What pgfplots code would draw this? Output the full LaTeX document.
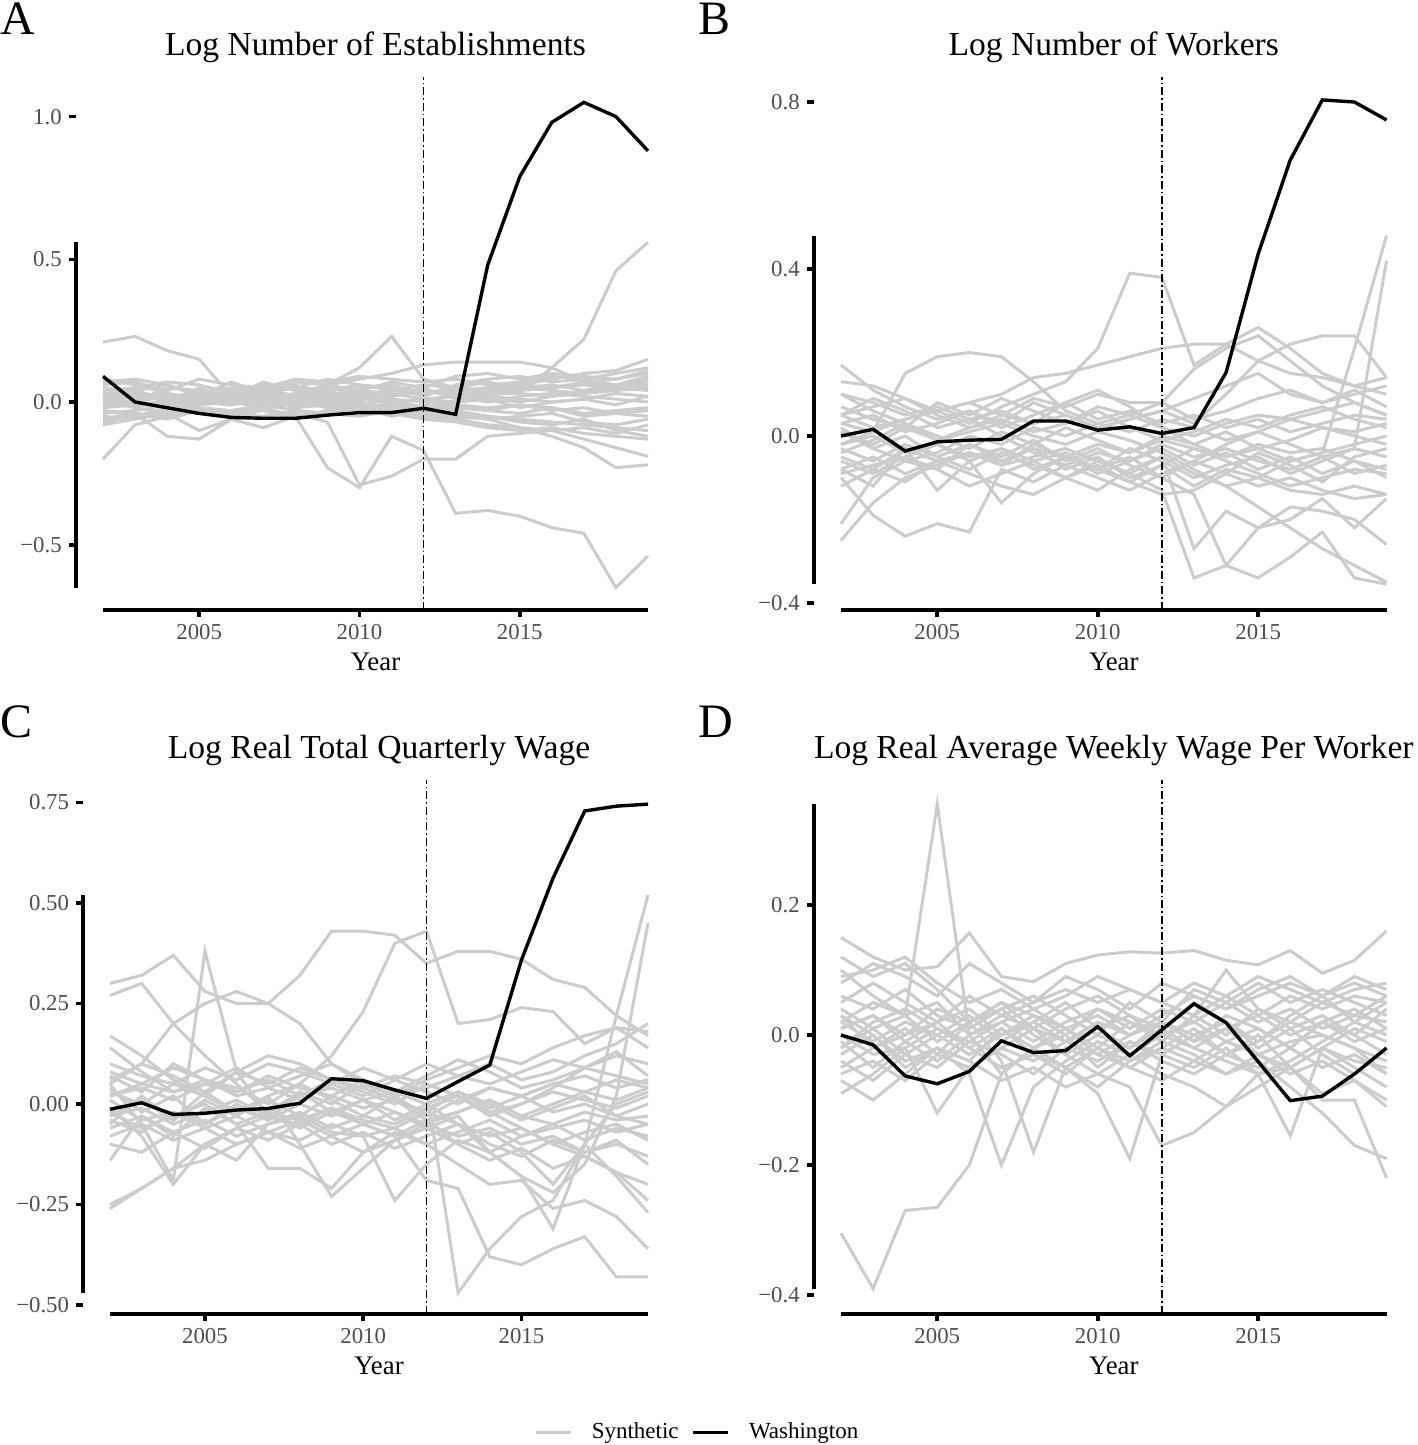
\documentclass[border=0pt]{standalone}
\usepackage{pgfplots}
\usepackage{pgfplotstable}
\pgfplotsset{compat=1.18}
\usepackage{fontspec}
\setmainfont{Liberation Serif}
\definecolor{gryc}{HTML}{CCCCCC}
\definecolor{tickc}{HTML}{4D4D4D}

\pgfplotstableread[header=has colnames]{
id 2002 2003 2004 2005 2006 2007 2008 2009 2010 2011 2012 2013 2014 2015 2016 2017 2018 2019
w 0.09 0.00 -0.02 -0.04 -0.054 -0.057 -0.057 -0.046 -0.037 -0.037 -0.022 -0.043 0.48 0.79 0.98 1.05 1.00 0.88
s1 0.21 0.23 0.18 0.15 0.02 0.03 0.05 0.04 0.06 0.05 0.03 0.04 0.05 0.06 0.05 0.07 0.08 0.10
s2 0.02 0.03 0.01 0.04 0.02 0.01 0.03 0.06 0.12 0.23 0.08 0.05 0.04 0.03 0.02 0.04 0.06 0.07
s3 -0.03 -0.05 -0.02 -0.04 -0.03 -0.02 -0.05 -0.23 -0.30 -0.12 -0.17 -0.39 -0.38 -0.40 -0.44 -0.46 -0.65 -0.54
s4 -0.06 -0.04 -0.05 -0.03 -0.04 -0.05 -0.04 -0.07 -0.29 -0.26 -0.20 -0.20 -0.12 -0.11 -0.10 -0.09 -0.11 -0.08
s5 0.01 0.03 0.02 0.00 0.04 0.03 0.02 0.01 0.03 0.02 0.04 0.02 0.03 0.03 0.12 0.22 0.46 0.56
s6 0.05 0.04 0.06 0.03 0.05 0.04 0.07 0.06 0.08 0.10 0.13 0.14 0.14 0.14 0.12 0.07 0.05 0.06
s7 0.00 -0.02 0.01 -0.01 0.00 0.02 -0.01 0.00 -0.02 -0.01 -0.03 -0.05 -0.06 -0.09 -0.12 -0.16 -0.23 -0.22
s8 0.03 0.01 0.02 0.00 -0.01 0.01 0.00 -0.02 -0.01 -0.03 -0.04 -0.06 -0.08 -0.09 -0.10 -0.13 -0.16 -0.19
s9 -0.01 0.00 0.02 0.03 0.01 0.04 0.05 0.03 0.02 0.04 0.03 0.05 0.04 0.06 0.08 0.10 0.11 0.15
s10 -0.20 -0.08 -0.05 -0.03 -0.04 -0.02 0.00 -0.01 0.01 0.00 -0.02 0.00 0.01 -0.02 0.00 0.01 -0.01 0.02
s11 -0.06 -0.04 -0.12 -0.13 -0.06 -0.05 -0.03 -0.04 -0.02 -0.05 -0.03 -0.04 -0.06 -0.05 -0.04 -0.07 -0.08 -0.06
s12 0.02 -0.02 -0.04 -0.10 -0.06 -0.09 -0.05 -0.03 -0.01 -0.02 -0.03 -0.01 -0.03 -0.04 -0.02 -0.05 -0.04 -0.03
s13 0.06 0.07 0.04 0.08 0.06 0.05 0.08 0.07 0.09 0.08 0.07 0.08 0.06 0.07 0.09 0.08 0.10 0.12
s14 0.04 0.05 0.07 0.06 0.03 0.06 0.05 0.08 0.06 0.04 0.06 0.05 0.07 0.05 0.04 0.03 0.04 0.05
s15 0.00 0.02 0.03 0.01 0.02 0.00 0.03 0.02 0.04 0.03 0.01 0.02 0.00 0.02 0.03 0.02 0.01 0.00
s16 -0.02 -0.01 0.00 0.02 0.01 0.03 0.01 0.00 0.02 0.01 0.00 -0.01 -0.02 -0.01 -0.03 -0.02 -0.04 -0.05
s17 0.03 0.04 0.01 0.00 0.03 0.05 0.02 0.04 0.01 0.02 0.04 0.03 0.02 0.04 0.05 0.06 0.05 0.04
s18 -0.04 -0.03 -0.01 0.01 0.00 -0.02 -0.01 0.01 0.00 -0.02 -0.01 -0.03 -0.05 -0.06 -0.07 -0.08 -0.09 -0.10
s19 -0.07 -0.05 -0.03 -0.01 0.02 0.01 -0.02 -0.01 -0.03 0.00 0.01 0.00 0.01 0.00 0.02 0.03 0.05 0.06
s20 0.01 0.00 0.05 0.04 0.02 0.07 0.04 0.02 0.05 0.06 0.03 0.04 0.03 0.05 0.06 0.04 0.06 0.08
s21 -0.08 -0.06 -0.04 -0.02 -0.03 -0.01 -0.03 -0.04 -0.05 -0.03 -0.05 -0.06 -0.05 -0.07 -0.08 -0.06 -0.10 -0.12
s22 0.08 0.06 0.03 0.01 0.04 0.02 0.06 0.03 0.01 0.05 0.02 0.06 0.08 0.09 0.07 0.08 0.06 0.09
s23 -0.05 -0.06 -0.02 0.00 -0.01 0.01 0.02 0.00 -0.01 0.01 -0.02 -0.02 -0.03 -0.01 -0.02 -0.04 -0.03 -0.02
s24 0.05 0.03 0.00 0.05 0.01 -0.01 0.01 0.05 0.03 0.02 0.05 0.01 0.02 0.01 0.00 0.01 0.03 0.02
s25 -0.03 -0.04 -0.06 -0.03 -0.05 -0.03 -0.06 -0.03 -0.02 -0.04 -0.06 -0.07 -0.09 -0.10 -0.09 -0.11 -0.12 -0.13
s26 0.07 0.08 0.06 0.02 0.07 0.03 0.00 0.06 0.04 0.07 0.05 0.09 0.10 0.08 0.10 0.09 0.08 0.11
}\rawA

\pgfplotstableread[header=has colnames]{
id 2002 2003 2004 2005 2006 2007 2008 2009 2010 2011 2012 2013 2014 2015 2016 2017 2018 2019
w 0.00 0.016 -0.036 -0.014 -0.01 -0.008 0.036 0.036 0.014 0.022 0.006 0.02 0.152 0.436 0.661 0.805 0.80 0.757
s1 0.05 0.02 0.04 0.06 0.03 0.07 0.10 0.13 0.21 0.39 0.38 0.17 0.22 0.26 0.21 0.15 0.12 0.14
s2 0.03 0.01 0.15 0.19 0.20 0.19 0.13 0.06 0.03 0.05 0.02 0.00 0.03 0.05 0.04 0.02 0.01 0.03
s3 -0.02 0.01 0.04 0.06 0.08 0.10 0.14 0.15 0.17 0.19 0.21 0.22 0.22 0.18 0.15 0.14 0.12 0.10
s4 0.02 -0.03 0.00 -0.05 -0.02 -0.06 -0.03 -0.08 -0.05 -0.10 -0.07 -0.12 -0.08 -0.10 -0.06 -0.04 0.21 0.48
s5 -0.08 -0.05 -0.09 -0.06 -0.04 -0.07 -0.02 -0.05 -0.08 -0.03 -0.06 -0.10 -0.07 -0.05 -0.09 -0.06 -0.03 0.42
s6 0.10 0.08 0.05 0.07 0.04 0.06 0.03 0.05 0.02 0.04 0.06 0.03 0.10 0.18 0.22 0.24 0.24 0.14
s7 0.05 0.07 0.09 0.06 0.08 0.05 0.09 0.07 0.10 0.08 0.08 0.16 0.21 0.24 0.18 0.12 0.08 0.05
s8 -0.05 -0.08 -0.03 -0.06 -0.04 -0.07 -0.05 -0.03 -0.06 -0.09 -0.13 -0.34 -0.31 -0.34 -0.29 -0.23 -0.34 -0.355
s9 -0.02 0.00 -0.04 -0.02 -0.05 -0.03 -0.06 -0.04 -0.08 -0.05 -0.10 -0.14 -0.31 -0.22 -0.17 -0.18 -0.20 -0.26
s10 0.01 -0.02 0.02 -0.01 0.01 0.03 0.00 -0.02 0.01 -0.01 -0.04 -0.08 -0.12 -0.17 -0.22 -0.27 -0.31 -0.35
s11 -0.03 -0.06 -0.02 -0.05 -0.08 -0.04 -0.07 -0.10 -0.06 -0.09 -0.05 -0.27 -0.18 -0.22 -0.20 -0.15 -0.22 -0.15
s12 -0.25 -0.16 -0.10 -0.07 -0.04 -0.06 -0.03 -0.05 -0.02 -0.04 -0.01 -0.03 -0.05 -0.02 -0.04 -0.03 -0.06 -0.08
s13 -0.21 -0.10 -0.06 -0.08 -0.12 -0.09 -0.06 -0.10 -0.13 -0.08 -0.05 -0.09 -0.12 -0.10 -0.13 -0.14 -0.12 -0.14
s14 -0.10 -0.19 -0.24 -0.21 -0.23 -0.08 -0.11 -0.07 -0.04 -0.06 -0.02 -0.05 -0.03 -0.06 -0.08 -0.05 -0.09 -0.07
s15 -0.08 -0.12 -0.03 -0.13 -0.06 -0.16 -0.09 -0.05 -0.08 -0.11 -0.07 -0.03 -0.06 -0.09 -0.12 -0.10 -0.08 -0.09
s16 0.17 0.11 0.07 0.04 0.06 0.03 0.08 0.05 0.02 0.04 0.06 0.09 0.12 0.15 0.10 0.08 0.11 0.07
s17 0.13 0.12 0.09 0.05 0.02 0.04 0.01 0.03 0.06 0.02 -0.01 0.01 0.04 0.02 0.05 0.07 0.04 0.02
s18 0.03 0.05 0.01 0.03 0.06 0.02 0.05 0.08 0.04 0.06 0.03 0.05 0.02 0.04 0.01 0.03 0.05 0.04
s19 -0.04 -0.01 0.03 0.00 -0.03 0.01 -0.02 0.02 -0.01 -0.04 0.00 -0.02 0.01 -0.03 -0.01 0.02 0.00 -0.02
s20 0.07 0.04 0.02 0.08 0.05 0.09 0.06 0.03 0.07 0.05 0.08 0.04 0.06 0.09 0.11 0.08 0.10 0.12
s21 -0.09 -0.07 -0.05 -0.02 -0.06 -0.03 -0.08 -0.05 -0.09 -0.06 -0.03 -0.07 -0.04 -0.08 -0.05 -0.09 -0.06 -0.10
s22 0.01 -0.03 -0.06 -0.04 0.00 -0.02 0.02 0.00 0.03 0.01 0.04 0.02 -0.01 0.01 -0.02 -0.05 -0.03 -0.05
s23 0.10 0.06 0.03 -0.01 0.02 0.05 0.03 0.08 0.11 0.07 0.02 -0.02 -0.05 -0.03 -0.06 -0.04 -0.02 0.00
s24 -0.12 -0.08 -0.11 -0.06 -0.09 -0.12 -0.14 -0.10 -0.07 -0.11 -0.14 -0.13 -0.09 -0.12 -0.10 -0.13 -0.15 -0.14
s25 0.05 0.09 0.06 0.02 0.04 0.00 -0.04 -0.07 -0.10 -0.13 -0.09 -0.06 -0.02 0.01 0.04 0.06 0.08 0.05
s26 -0.06 -0.09 -0.05 -0.08 -0.02 -0.05 -0.01 -0.06 -0.03 -0.07 -0.10 -0.06 -0.09 -0.04 -0.07 -0.11 -0.05 -0.03
}\rawB

\pgfplotstableread[header=has colnames]{
id 2002 2003 2004 2005 2006 2007 2008 2009 2010 2011 2012 2013 2014 2015 2016 2017 2018 2019
w -0.013 0.003 -0.026 -0.023 -0.015 -0.011 0.002 0.063 0.058 0.035 0.014 0.056 0.097 0.358 0.562 0.729 0.741 0.746
s1 0.30 0.32 0.37 0.28 0.25 0.25 0.32 0.43 0.43 0.42 0.35 0.38 0.38 0.36 0.31 0.29 0.22 0.17
s2 0.27 0.30 0.20 0.12 0.05 -0.02 0.03 0.00 0.05 0.02 -0.03 0.01 0.04 0.02 0.05 0.03 0.06 0.04
s3 0.05 -0.05 -0.19 0.38 0.08 -0.03 0.02 0.06 0.04 0.01 -0.02 0.03 0.00 -0.04 -0.01 0.02 -0.03 0.00
s4 -0.05 0.02 -0.04 0.01 -0.03 0.02 0.05 0.12 0.23 0.40 0.43 0.20 0.21 0.24 0.23 0.15 0.19 0.18
s5 0.05 0.10 0.20 0.25 0.28 0.25 0.20 0.10 0.05 0.02 0.04 0.07 0.10 0.06 0.08 0.12 0.15 0.20
s6 -0.02 -0.06 -0.03 0.00 -0.05 -0.02 -0.04 -0.01 -0.05 -0.08 -0.19 -0.21 -0.38 -0.40 -0.36 -0.33 -0.43 -0.43
s7 0.02 0.04 0.01 0.05 0.03 0.06 0.02 0.04 0.01 0.03 0.04 -0.47 -0.36 -0.28 -0.24 -0.10 0.00 0.03
s8 -0.03 -0.01 -0.05 -0.02 0.01 -0.03 -0.06 -0.02 -0.05 -0.08 -0.04 -0.10 -0.07 -0.12 -0.20 -0.10 0.22 0.52
s9 0.01 -0.04 -0.02 -0.06 -0.03 -0.07 -0.04 -0.08 -0.05 -0.02 -0.06 -0.03 -0.12 -0.18 -0.22 -0.15 0.02 0.45
s10 -0.25 -0.21 -0.16 -0.10 -0.06 -0.03 -0.05 -0.01 -0.04 -0.06 -0.02 -0.05 -0.08 -0.06 -0.10 -0.07 -0.05 -0.09
s11 -0.26 -0.21 -0.16 -0.14 -0.10 -0.07 -0.11 -0.08 -0.12 -0.09 -0.06 -0.10 -0.14 -0.11 -0.16 -0.13 -0.17 -0.20
s12 -0.14 -0.03 -0.08 -0.01 -0.05 -0.16 -0.16 -0.21 -0.12 -0.07 -0.10 -0.15 -0.20 -0.19 -0.26 -0.24 -0.28 -0.36
s13 0.03 0.00 0.05 0.02 -0.02 0.02 -0.10 -0.23 -0.16 -0.09 -0.05 -0.02 0.01 -0.03 0.00 0.03 0.01 0.04
s14 -0.06 -0.03 -0.07 -0.04 -0.08 -0.05 -0.03 -0.07 -0.08 -0.24 -0.15 -0.09 -0.12 -0.08 -0.06 -0.04 -0.07 -0.05
s15 -0.01 -0.08 -0.20 -0.10 -0.14 -0.05 -0.02 -0.06 -0.03 -0.05 -0.01 0.02 -0.02 0.00 0.03 0.01 -0.01 0.02
s16 0.08 0.05 0.09 0.06 0.03 0.07 0.04 0.02 0.06 0.03 0.00 -0.05 -0.12 -0.18 -0.31 -0.10 -0.18 -0.27
s17 0.06 0.10 0.07 0.03 0.08 0.05 0.09 0.06 0.04 0.07 0.05 0.02 -0.02 -0.06 -0.10 -0.13 -0.17 -0.24
s18 -0.04 -0.07 -0.02 -0.05 -0.01 -0.04 0.00 -0.03 0.01 -0.02 -0.05 -0.08 -0.06 -0.10 -0.08 -0.12 -0.09 -0.15
s19 0.10 0.07 0.05 0.09 0.06 0.10 0.08 0.05 0.09 0.06 0.10 0.07 0.05 0.08 0.11 0.09 0.12 0.10
s20 0.02 0.05 0.03 0.06 0.02 0.04 0.01 0.05 0.02 0.06 0.03 0.00 0.04 0.02 0.05 0.07 0.04 0.06
s21 -0.08 -0.05 -0.09 -0.06 -0.10 -0.07 -0.09 -0.05 -0.08 -0.06 -0.10 -0.07 -0.04 -0.08 -0.05 -0.09 -0.06 -0.08
s22 0.14 0.08 0.03 0.05 0.09 0.04 0.07 0.10 0.06 0.03 0.07 0.11 0.08 0.04 0.06 0.09 0.07 0.05
s23 -0.03 0.01 -0.04 0.03 -0.02 0.01 -0.03 0.02 -0.01 0.01 -0.04 -0.02 0.01 -0.03 -0.05 -0.02 -0.04 -0.03
s24 0.04 -0.02 0.02 -0.05 0.00 -0.04 0.03 -0.02 0.01 -0.04 0.00 0.03 -0.01 0.02 -0.02 0.00 -0.03 -0.05
s25 0.17 0.12 0.06 0.02 0.08 0.12 0.10 0.06 0.03 0.00 0.05 0.02 -0.03 0.00 0.04 0.09 0.13 0.07
s26 -0.10 -0.12 -0.07 -0.11 -0.06 -0.09 -0.05 -0.10 -0.07 -0.11 -0.08 -0.05 -0.10 -0.13 -0.09 -0.12 -0.10 -0.13
s27 0.07 0.03 0.10 0.06 0.04 0.00 0.05 0.01 -0.03 0.02 0.06 0.09 0.12 0.10 0.14 0.17 0.19 0.14
}\rawC

\pgfplotstableread[header=has colnames]{
id 2002 2003 2004 2005 2006 2007 2008 2009 2010 2011 2012 2013 2014 2015 2016 2017 2018 2019
w 0.00 -0.015 -0.063 -0.075 -0.056 -0.009 -0.027 -0.024 0.013 -0.032 0.008 0.048 0.019 -0.041 -0.101 -0.094 -0.06 -0.02
s1 0.02 0.05 0.03 0.355 0.00 0.02 0.04 0.01 0.03 0.00 0.02 -0.01 0.01 0.03 0.00 0.02 0.04 0.01
s2 -0.305 -0.39 -0.27 -0.265 -0.20 -0.06 -0.02 0.01 -0.03 0.00 0.02 -0.01 0.03 0.01 -0.02 0.02 0.00 -0.03
s3 0.15 0.12 0.10 0.105 0.157 0.09 0.082 0.11 0.123 0.128 0.126 0.13 0.115 0.108 0.13 0.095 0.115 0.16
s4 0.12 0.09 0.11 0.07 0.02 0.05 0.01 0.04 0.06 0.03 0.01 0.05 0.02 -0.01 0.03 0.06 0.02 0.05
s5 -0.02 0.01 -0.03 0.00 0.03 -0.01 0.02 0.05 0.01 0.03 -0.01 0.03 0.10 0.04 0.02 0.05 0.03 0.06
s6 0.03 0.00 -0.04 -0.02 -0.06 -0.20 -0.08 -0.04 -0.01 -0.03 0.00 -0.02 0.01 -0.03 -0.01 0.00 -0.02 -0.04
s7 -0.05 -0.02 0.01 -0.03 0.02 -0.04 -0.18 -0.05 -0.08 -0.04 -0.02 0.01 -0.03 0.00 -0.05 -0.02 0.01 -0.01
s8 0.01 0.03 -0.01 0.02 -0.02 0.01 -0.03 -0.05 -0.09 -0.19 -0.03 0.00 0.02 -0.02 0.01 -0.03 -0.06 -0.02
s9 0.04 0.01 0.03 -0.01 0.02 0.04 0.00 -0.03 -0.06 -0.08 -0.17 -0.15 -0.11 -0.06 -0.04 -0.01 0.02 0.00
s10 -0.04 -0.07 -0.03 -0.05 -0.01 -0.03 -0.06 -0.02 -0.04 -0.01 -0.03 -0.05 -0.02 -0.06 -0.155 -0.02 -0.05 -0.08
s11 0.02 -0.01 0.02 0.00 -0.03 0.00 0.02 -0.01 0.01 -0.02 0.01 -0.02 -0.04 -0.06 -0.05 -0.10 -0.10 -0.22
s12 -0.03 0.00 -0.05 -0.02 -0.04 0.01 -0.02 -0.05 -0.02 -0.04 -0.01 -0.03 -0.06 -0.04 -0.08 -0.12 -0.17 -0.19
s13 0.00 -0.03 -0.02 -0.12 -0.05 -0.02 0.01 -0.03 0.00 -0.02 0.02 0.00 -0.03 -0.01 0.02 0.00 -0.02 -0.06
s14 0.08 0.11 0.09 0.06 0.11 0.08 0.05 0.09 0.07 0.04 0.08 0.06 0.04 0.07 0.09 0.06 0.08 0.06
s15 0.06 0.04 0.07 0.03 0.01 0.04 0.06 0.03 0.00 0.05 0.02 0.07 0.05 0.08 0.05 0.07 0.05 0.03
s16 -0.02 0.02 0.04 0.01 -0.01 0.02 -0.01 0.02 0.04 0.01 0.04 0.02 0.05 0.02 0.04 0.01 0.03 0.02
s17 0.03 -0.02 0.00 0.02 0.04 0.00 0.03 0.01 -0.02 0.02 -0.01 0.03 0.00 0.04 0.01 0.03 0.00 0.04
s18 -0.06 -0.04 -0.07 -0.03 -0.05 -0.02 -0.04 -0.01 -0.03 -0.05 -0.02 -0.04 -0.01 -0.03 -0.05 -0.02 -0.04 -0.05
s19 -0.09 -0.06 -0.02 0.01 -0.02 -0.05 -0.03 -0.06 -0.02 -0.05 -0.07 -0.04 -0.06 -0.03 -0.06 -0.04 -0.07 -0.10
s20 0.10 0.06 0.03 0.05 0.00 0.03 0.01 -0.01 0.02 0.00 0.03 0.06 0.04 0.06 0.08 0.06 0.09 0.07
s21 0.05 0.08 0.05 0.02 0.06 0.03 0.05 0.07 0.05 0.07 0.05 0.08 0.06 0.03 0.06 0.04 0.06 0.05
s22 -0.01 -0.05 -0.01 -0.04 0.00 -0.06 -0.02 0.00 -0.05 -0.01 -0.04 -0.06 -0.03 -0.05 -0.02 -0.05 -0.03 -0.06
s23 0.01 0.03 0.00 0.04 0.02 0.05 0.03 0.00 0.04 0.02 0.00 0.02 -0.01 0.01 -0.02 0.02 -0.01 0.01
s24 0.09 0.10 0.12 0.08 0.05 0.07 0.04 0.06 0.09 0.07 0.05 0.03 0.06 0.09 0.07 0.05 0.07 0.08
s25 -0.07 -0.10 -0.06 -0.02 -0.04 -0.07 -0.05 -0.08 -0.06 -0.03 -0.06 -0.08 -0.11 -0.08 -0.05 -0.09 -0.07 -0.11
}\rawD

\pgfplotstabletranspose[colnames from=id,input colnames to=year]\tabA\rawA
\pgfplotstabletranspose[colnames from=id,input colnames to=year]\tabB\rawB
\pgfplotstabletranspose[colnames from=id,input colnames to=year]\tabC\rawC
\pgfplotstabletranspose[colnames from=id,input colnames to=year]\tabD\rawD

\pgfplotsset{
  panel/.style={
    scale only axis, anchor=south west, clip=false,
    xmin=2001.15, xmax=2019.85,
    axis x line*=bottom, axis y line*=left, axis line style={draw=none},
    tick align=outside, major tick length=3.5pt,
    major tick style={black, line width=1.8pt},
    xtick={2005,2010,2015}, xticklabels={2005,2010,2015},
    ticklabel style={font=\fontsize{11.4}{13}\selectfont, text=tickc},
    xlabel={Year}, xlabel style={font=\fontsize{13.4}{16}\selectfont, text=black},
    title style={at={(0.5,1)}, anchor=base, yshift=5pt, inner sep=0pt,
      font=\fontsize{16.8}{20}\selectfont},
  },
  gry/.style={color=gryc, line width=1.5pt, forget plot},
  blk/.style={color=black, line width=1.7pt, forget plot},
  vdash/.style={color=black, line width=0.9pt, forget plot,
    dash pattern=on 4pt off 1.5pt on 0.8pt off 1.5pt},
}
\newcommand\greylines[2]{%
  \pgfplotsinvokeforeach{1,...,#2}{\addplot[gry] table[x=year,y=s##1]{#1};}}

\begin{document}
\begin{tikzpicture}
\useasboundingbox (0,0) rectangle (709pt,-722.5pt);

% ---------- A ----------
\begin{axis}[panel, at={(37.875pt,-305pt)}, width=299.75pt, height=266.5pt,
  ymin=-0.7288, ymax=1.1388,
  ytick={-0.5,0,0.5,1}, yticklabels={−0.5,0.0,0.5,1.0},
  title={Log Number of Establishments}]
\greylines{\tabA}{26}
\addplot[vdash] coordinates {(2012,-0.7288) (2012,1.1388)};
\addplot[blk] table[x=year,y=w]{\tabA};
\draw[line width=1.8pt] (axis cs:2002,-0.7288) -- (axis cs:2019,-0.7288);
\draw[line width=1.8pt] (axis cs:2001.15,-0.65) -- (axis cs:2001.15,0.56);
\end{axis}

% ---------- B ----------
\begin{axis}[panel, at={(406.86pt,-305pt)}, width=300.04pt, height=266.5pt,
  ymin=-0.4168, ymax=0.8599,
  ytick={-0.4,0,0.4,0.8}, yticklabels={−0.4,0.0,0.4,0.8},
  title={Log Number of Workers}]
\greylines{\tabB}{26}
\addplot[vdash] coordinates {(2012,-0.4168) (2012,0.8599)};
\addplot[blk] table[x=year,y=w]{\tabB};
\draw[line width=1.8pt] (axis cs:2002,-0.4168) -- (axis cs:2019,-0.4168);
\draw[line width=1.8pt] (axis cs:2001.15,-0.355) -- (axis cs:2001.15,0.48);
\end{axis}

% ---------- C ----------
\begin{axis}[panel, at={(41.55pt,-657pt)}, width=295.9pt, height=267pt,
  ymin=-0.5224, ymax=0.806,
  ytick={-0.5,-0.25,0,0.25,0.5,0.75},
  yticklabels={−0.50,−0.25,0.00,0.25,0.50,0.75},
  title={Log Real Total Quarterly Wage},
  legend style={at={(1.040,-0.2216)}, anchor=center, draw=none, fill=none,
    legend columns=2, font=\fontsize{11.5}{13}\selectfont,
    /tikz/every odd column/.append style={column sep=7.5pt},
    /tikz/every even column/.append style={column sep=4.5pt}},
  legend image code/.code={\draw[#1] (0pt,0pt) -- (17.5pt,0pt);}]
\greylines{\tabC}{27}
\addplot[vdash] coordinates {(2012,-0.5224) (2012,0.806)};
\addplot[blk] table[x=year,y=w]{\tabC};
\draw[line width=1.8pt] (axis cs:2002,-0.5224) -- (axis cs:2019,-0.5224);
\draw[line width=1.8pt] (axis cs:2001.15,-0.47) -- (axis cs:2001.15,0.52);
\addlegendimage{color=gryc, line width=1.5pt}
\addlegendentry{Synthetic}
\addlegendimage{color=black, line width=1.7pt}
\addlegendentry{Washington}
\end{axis}

% ---------- D ----------
\begin{axis}[panel, at={(406.86pt,-657pt)}, width=300.04pt, height=267pt,
  ymin=-0.4292, ymax=0.3923,
  ytick={-0.4,-0.2,0,0.2}, yticklabels={−0.4,−0.2,0.0,0.2},
  title={Log Real Average Weekly Wage Per Worker}]
\greylines{\tabD}{25}
\addplot[vdash] coordinates {(2012,-0.4292) (2012,0.3923)};
\addplot[blk] table[x=year,y=w]{\tabD};
\draw[line width=1.8pt] (axis cs:2002,-0.4292) -- (axis cs:2019,-0.4292);
\draw[line width=1.8pt] (axis cs:2001.15,-0.39) -- (axis cs:2001.15,0.355);
\end{axis}

\node[anchor=base west, inner sep=0pt, font=\fontsize{24}{28}\selectfont] at (0pt,-17.5pt) {A};
\node[anchor=base west, inner sep=0pt, font=\fontsize{24}{28}\selectfont] at (349pt,-17.5pt) {B};
\node[anchor=base west, inner sep=0pt, font=\fontsize{24}{28}\selectfont] at (0pt,-368.5pt) {C};
\node[anchor=base west, inner sep=0pt, font=\fontsize{24}{28}\selectfont] at (349pt,-368.5pt) {D};
\end{tikzpicture}
\end{document}
